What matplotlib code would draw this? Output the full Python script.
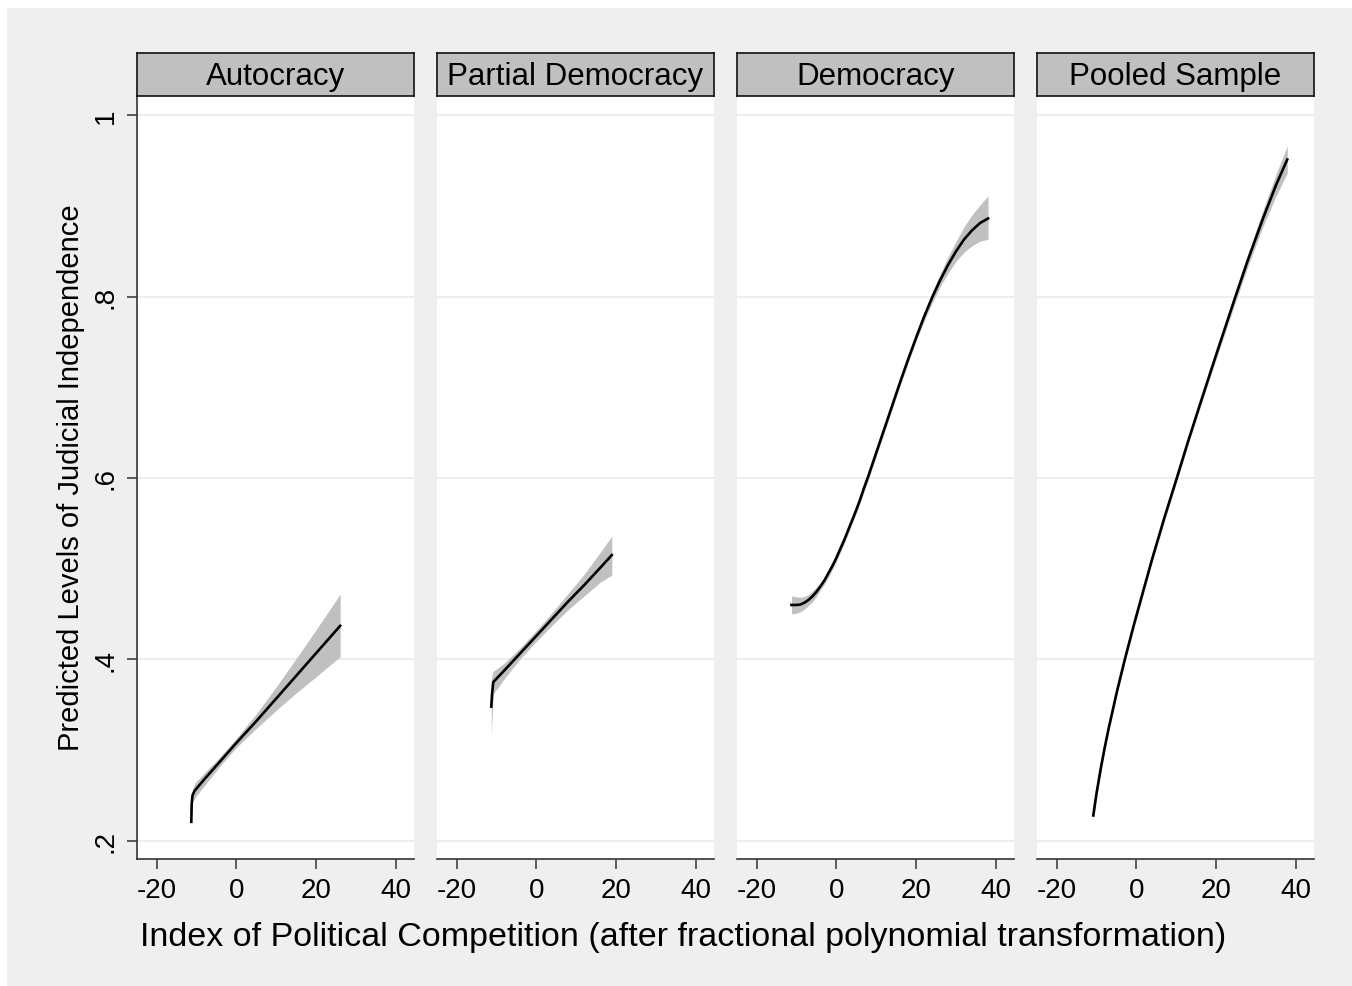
import matplotlib
matplotlib.use('Agg')
import matplotlib.pyplot as plt
from matplotlib.patches import Rectangle

plt.rcParams['font.family'] = ['Liberation Sans', 'DejaVu Sans']

# panel titles
panels = ['Autocracy', 'Partial Democracy', 'Democracy', 'Pooled Sample']

# Autocracy
auto_x = [-11.3, -11.2, -11.0, -10.5, -8, -4, 0, 5, 10, 15, 20, 26]
auto_y = [0.221, 0.240, 0.250, 0.255, 0.268, 0.288, 0.308, 0.332, 0.357, 0.382, 0.407, 0.437]
auto_hi = [0.224, 0.245, 0.257, 0.263, 0.275, 0.293, 0.313, 0.340, 0.370, 0.401, 0.433, 0.472]
auto_lo = [0.218, 0.235, 0.243, 0.247, 0.261, 0.283, 0.303, 0.324, 0.344, 0.363, 0.381, 0.403]

# Partial Democracy
part_x = [-11.3, -11.1, -10.8, -8, -4, 0, 4, 8, 12, 16, 18.9]
part_y = [0.348, 0.362, 0.375, 0.388, 0.407, 0.426, 0.445, 0.464, 0.482, 0.501, 0.515]
part_hi = [0.378, 0.383, 0.387, 0.396, 0.413, 0.432, 0.452, 0.473, 0.494, 0.518, 0.536]
part_lo = [0.316, 0.335, 0.362, 0.379, 0.401, 0.420, 0.438, 0.455, 0.470, 0.485, 0.493]

# Democracy
demo_x = [-11.25, -10, -9, -8, -7, -6, -5, -4, -3, -2, -1, 0, 1, 2, 3, 4, 5, 6, 7, 8,
          10, 12, 14, 16, 18, 20, 22, 24, 26, 28, 30, 32, 34, 36, 38]
demo_y = [0.460, 0.460, 0.4605, 0.4625, 0.4655, 0.4695, 0.4745, 0.4805, 0.487, 0.495, 0.503,
          0.512, 0.522, 0.532, 0.543, 0.554, 0.565, 0.577, 0.590, 0.602,
          0.628, 0.654, 0.680, 0.706, 0.731, 0.755, 0.778, 0.799, 0.818, 0.835, 0.850,
          0.863, 0.873, 0.881, 0.886]
demo_hi = [0.470, 0.469, 0.4685, 0.4695, 0.4715, 0.4755, 0.4795, 0.4845, 0.491, 0.499, 0.507,
           0.516, 0.526, 0.536, 0.547, 0.558, 0.569, 0.581, 0.594, 0.606,
           0.632, 0.658, 0.684, 0.710, 0.735, 0.759, 0.783, 0.805, 0.825, 0.844, 0.861,
           0.877, 0.890, 0.901, 0.911]
demo_lo = [0.450, 0.451, 0.4525, 0.4555, 0.4595, 0.4635, 0.4695, 0.4765, 0.483, 0.491, 0.499,
           0.508, 0.518, 0.528, 0.539, 0.550, 0.561, 0.573, 0.586, 0.598,
           0.624, 0.650, 0.676, 0.702, 0.727, 0.751, 0.773, 0.793, 0.811, 0.826, 0.839,
           0.849, 0.856, 0.861, 0.863]

# Pooled Sample
pool_x = [-10.8, -10, -9, -8, -6.9, -4.8, -2.9, -0.7, 2, 3.9, 7, 10.2, 13, 16, 20,
          24.75, 28, 31.8, 35, 37.8]
pool_y = [0.228, 0.252, 0.278, 0.3015, 0.325, 0.366, 0.400, 0.437, 0.480, 0.510, 0.556,
          0.601, 0.641, 0.682, 0.736, 0.799, 0.841, 0.887, 0.923, 0.951]
pool_hi = [0.234, 0.257, 0.283, 0.3055, 0.329, 0.370, 0.404, 0.441, 0.484, 0.514, 0.560,
           0.605, 0.645, 0.686, 0.741, 0.805, 0.848, 0.896, 0.935, 0.966]
pool_lo = [0.222, 0.247, 0.273, 0.2975, 0.321, 0.362, 0.396, 0.433, 0.476, 0.506, 0.552,
           0.597, 0.637, 0.678, 0.731, 0.793, 0.834, 0.878, 0.911, 0.936]

series = [(auto_x, auto_y, auto_lo, auto_hi),
          (part_x, part_y, part_lo, part_hi),
          (demo_x, demo_y, demo_lo, demo_hi),
          (pool_x, pool_y, pool_lo, pool_hi)]

xticks = [-20, 0, 20, 40]
yticks = [0.2, 0.4, 0.6, 0.8, 1.0]
ytick_labels = ['.2', '.4', '.6', '.8', '1']

W, H = 1352, 987
fig = plt.figure(figsize=(W / 100, H / 100), dpi=100, facecolor='white')
# stata-ish grey graph region
fig.patches.append(Rectangle((7 / W, 0), 1, 1 - 9 / H, transform=fig.transFigure,
                             facecolor='#efefef', edgecolor='none', zorder=-10))

for i, name in enumerate(panels):
    left = (137 + 300 * i) / W
    ax = fig.add_axes([left, 1 - 860 / H, 277 / W, 763 / H])
    x, y, lo, hi = series[i]
    ax.fill_between(x, lo, hi, color='#c0c0c0', linewidth=0, zorder=2)
    ax.plot(x, y, color='black', lw=1.9, zorder=3, solid_joinstyle='round')

    ax.set_xlim(-24.9, 44.5)
    ax.set_ylim(0.18, 1.021)
    ax.set_xticks(xticks)
    ax.set_xticklabels([str(t) for t in xticks], fontsize=20)
    ax.set_yticks(yticks)
    for yv in yticks:
        ax.axhline(yv, color='#e4ecef', lw=1.2, zorder=1)

    for s in ['top', 'right']:
        ax.spines[s].set_visible(False)
    ax.spines['bottom'].set_color('#333333')
    ax.spines['bottom'].set_linewidth(1.2)
    ax.tick_params(axis='x', length=7, width=1.1, color='#333333', pad=6)
    if i == 0:
        ax.spines['left'].set_color('#333333')
        ax.spines['left'].set_linewidth(1.2)
        ax.set_yticklabels(ytick_labels, fontsize=20, rotation=90, va='center')
        ax.tick_params(axis='y', length=7, width=1.1, color='#333333', pad=6)
    else:
        ax.spines['left'].set_visible(False)
        ax.tick_params(axis='y', left=False, labelleft=False)

    # strip header
    sx = fig.add_axes([left, 1 - 97 / H, 277 / W, 43 / H], facecolor='#c0c0c0')
    sx.set_xticks([])
    sx.set_yticks([])
    for s in sx.spines.values():
        s.set_color('#111111')
        s.set_linewidth(1.2)
    sx.text(0.5, 0.47, name, ha='center', va='center', fontsize=22.5, transform=sx.transAxes)

fig.text(683.5 / W, 1 - 938 / H,
         'Index of Political Competition (after fractional polynomial transformation)',
         ha='center', va='center', fontsize=24.5)
fig.text(71 / W, 1 - 478 / H, 'Predicted Levels of Judicial Independence',
         ha='center', va='center', rotation=90, fontsize=21)

plt.savefig('out.png', dpi=100, facecolor=fig.get_facecolor())
